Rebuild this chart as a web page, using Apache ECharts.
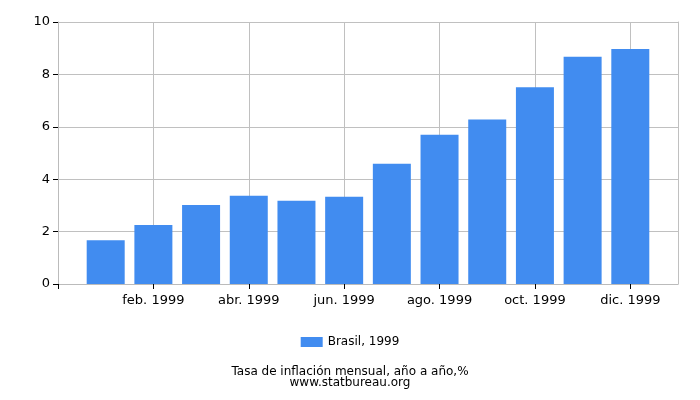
<!DOCTYPE html>
<html><head><meta charset="utf-8">
<script src="https://cdn.jsdelivr.net/npm/echarts@6/dist/echarts.min.js"></script>
<style>html,body{margin:0;padding:0;background:#fff}#c{width:700px;height:400px}</style>
</head><body><div id="c"></div>
<script>
var months = ['ene. 1999','feb. 1999','mar. 1999','abr. 1999','may. 1999','jun. 1999','jul. 1999','ago. 1999','sept. 1999','oct. 1999','nov. 1999','dic. 1999'];
var monthIndex = [1,2,3,4,5,6,7,8,9,10,11,12];
var values = [1.67,2.25,3.02,3.37,3.18,3.33,4.59,5.70,6.28,7.51,8.67,8.97];
var xTickValues = [0,2,4,6,8,10,12];
var yTicks = [0,2,4,6,8,10];
var seriesName = 'Brasil, 1999';
var title = 'Tasa de inflación mensual, año a año,%';
var source = 'www.statbureau.org';

var chart = echarts.init(document.getElementById('c'));
var font = 'DejaVu Sans';
var gLeft = 58, gRight = 22, plotW = 700 - gLeft - gRight;
chart.setOption({
  animation:false,
  textStyle:{fontFamily:font},
  grid:[{left:gLeft,right:gRight,top:22,bottom:116,containLabel:false},
        {left:gLeft,right:gRight + plotW/13,top:22,bottom:116,containLabel:false}],
  title:{text:title,subtext:source,left:'center',top:361,itemGap:-1,
    textStyle:{fontSize:12,fontWeight:'normal',color:'#000',fontFamily:font},
    subtextStyle:{fontSize:12,color:'#000',fontFamily:font}},
  legend:{data:[seriesName],top:331,left:'center',icon:'rect',itemWidth:22,itemHeight:10,itemGap:5,
    textStyle:{fontSize:12,color:'#000',fontFamily:font}},
  xAxis:[{type:'value',gridIndex:0,min:0,max:13,interval:2,
    axisLine:{show:true,lineStyle:{color:'#bbbbbb'}},
    axisTick:{show:false},
    splitLine:{show:true,lineStyle:{color:'#c0c0c0'}},
    axisLabel:{fontSize:13,color:'#000',margin:10,customValues:xTickValues,
      formatter:function(v){var i=monthIndex.indexOf(v);return i>=0?months[i]:'';}}},
   {type:'value',gridIndex:1,min:xTickValues[0],max:xTickValues[xTickValues.length-1],interval:2,
    axisLine:{show:false},
    axisTick:{show:true,length:5,lineStyle:{color:'#000'}},
    splitLine:{show:false},axisLabel:{show:false}}],
  yAxis:[{type:'value',gridIndex:0,min:yTicks[0],max:yTicks[yTicks.length-1],interval:2,
    axisLine:{show:true,lineStyle:{color:'#bbbbbb'}},
    axisTick:{show:true,length:5,lineStyle:{color:'#000'}},
    splitLine:{show:true,lineStyle:{color:'#c0c0c0'}},
    axisLabel:{fontSize:13,color:'#000',margin:8}},
   {type:'value',gridIndex:0,position:'right',min:yTicks[0],max:yTicks[yTicks.length-1],
    axisLine:{show:true,lineStyle:{color:'#c0c0c0'}},
    axisTick:{show:false},axisLabel:{show:false},splitLine:{show:false}},
   {type:'value',gridIndex:1,show:false,min:0,max:10}],
  series:[{name:seriesName,type:'bar',barWidth:38,xAxisIndex:0,yAxisIndex:0,
    itemStyle:{color:'#418cf0'},
    data:monthIndex.map(function(m,i){return [m,values[i]];})}]
});
</script></body></html>
